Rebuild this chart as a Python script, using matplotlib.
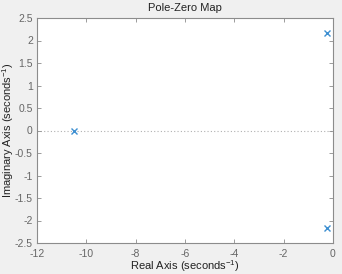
import matplotlib.pyplot as plt
import numpy as np

plt.rcParams['font.family'] = ['Liberation Sans', 'DejaVu Sans']
plt.rcParams['mathtext.default'] = 'regular'

# poles
pole_re = [-10.5, -0.25, -0.25]
pole_im = [0.0, 2.17, -2.17]

xticks = [-12, -10, -8, -6, -4, -2, 0]
yticks = [-2.5, -2, -1.5, -1, -0.5, 0, 0.5, 1, 1.5, 2, 2.5]

fig = plt.figure(figsize=(3.42, 2.74), dpi=100, facecolor='#f0f0f0')
ax = fig.add_axes([37/342, 1 - 243/274, (333-37)/342, (243-18)/274])
ax.set_facecolor('white')

ax.axhline(0, color='#b0b0b0', linestyle=(0, (1, 2)), linewidth=0.8, zorder=1)
ax.plot(pole_re, pole_im, 'x', color='#3d8fd1', markersize=5, markeredgewidth=1.0, zorder=3)

ax.set_xlim(-12, 0)
ax.set_ylim(-2.5, 2.5)
ax.set_xticks(xticks)
ax.set_yticks(yticks)
ax.set_xticklabels([str(t) for t in xticks])
ax.set_yticklabels(['%g' % t for t in yticks])

for s in ax.spines.values():
    s.set_color('#8c8c8c')
    s.set_linewidth(0.8)
ax.tick_params(direction='in', top=True, right=True, length=3, width=0.6,
               colors='#8c8c8c', labelcolor='#666666', labelsize=7.5, pad=3)
ax.tick_params(axis='x', pad=4)

ax.set_title('Pole-Zero Map', fontsize=8, color='#222222', pad=5)
ax.set_xlabel('Real Axis (seconds$^{-1}$)', fontsize=8, color='#222222', labelpad=0)
ax.set_ylabel('Imaginary Axis (seconds$^{-1}$)', fontsize=8, color='#222222')
ax.yaxis.set_label_coords(-0.072, 0.5)

fig.savefig('out.png', dpi=100, facecolor=fig.get_facecolor())
